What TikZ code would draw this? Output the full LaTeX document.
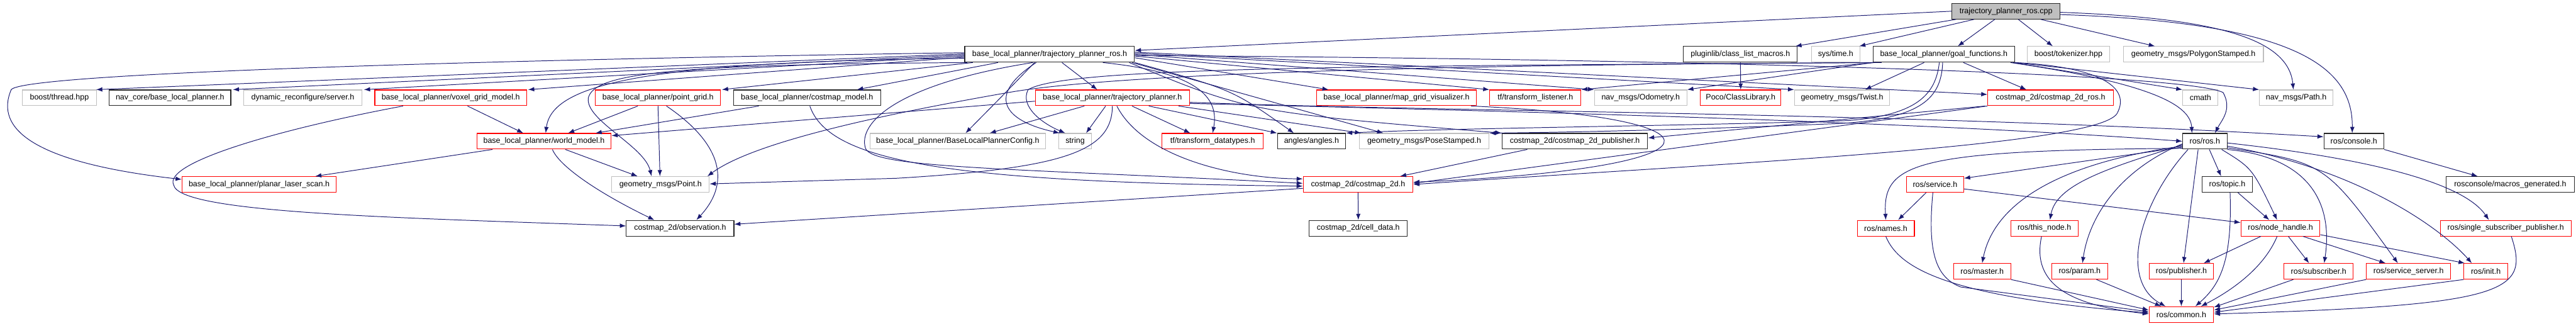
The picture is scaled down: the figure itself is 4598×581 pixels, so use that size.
\documentclass[tikz,border=0pt]{standalone}
\usepackage{fontspec}
\setmainfont{Liberation Sans}
\usetikzlibrary{arrows.meta}
\definecolor{edgeblue}{RGB}{25,25,112}
\definecolor{grey75}{RGB}{191,191,191}
\tikzset{
  box/.style={rectangle, draw, line width=1.2pt, fill=white, minimum height=28pt, inner sep=0pt, font=\fontsize{14}{16}\selectfont},
  hfile/.style={box, draw=black!85},
  extfile/.style={box, draw=grey75},
  trunc/.style={box, draw=red},
  rootfile/.style={box, draw=black!85, fill=grey75},
  dep/.style={draw=edgeblue, line width=1.1pt, -{Latex[length=11pt,width=8pt]}}
}
\begin{document}
\begin{tikzpicture}[x=1pt, y=-1pt]
  \useasboundingbox (0,0) rectangle (4598,581);
  \node[rootfile, minimum width=193pt] (cpp) at (3580.5,20) {trajectory\_planner\_ros.cpp};
  \node[hfile, minimum width=303pt] (tprh) at (1873.5,97) {base\_local\_planner/trajectory\_planner\_ros.h};
  \node[hfile, minimum width=203pt] (clm) at (3106.5,97) {pluginlib/class\_list\_macros.h};
  \node[extfile, minimum width=87pt] (systime) at (3276.5,97) {sys/time.h};
  \node[hfile, minimum width=253pt] (goalfn) at (3469.5,97) {base\_local\_planner/goal\_functions.h};
  \node[extfile, minimum width=148pt] (tokenizer) at (3692,97) {boost/tokenizer.hpp};
  \node[extfile, minimum width=250pt] (polygon) at (3915,97) {geometry\_msgs/PolygonStamped.h};
  \node[extfile, minimum width=132pt] (bthread) at (106,174.5) {boost/thread.hpp};
  \node[hfile, minimum width=217pt] (navcore) at (303.5,174.5) {nav\_core/base\_local\_planner.h};
  \node[extfile, minimum width=211pt] (dynrec) at (540.5,174.5) {dynamic\_reconfigure/server.h};
  \node[trunc, minimum width=271pt] (voxel) at (804.5,174.5) {base\_local\_planner/voxel\_grid\_model.h};
  \node[trunc, minimum width=223pt] (pgrid) at (1174.5,174.5) {base\_local\_planner/point\_grid.h};
  \node[hfile, minimum width=263pt] (cmodel) at (1440.5,174.5) {base\_local\_planner/costmap\_model.h};
  \node[trunc, minimum width=275pt] (tplanner) at (1985.5,174.5) {base\_local\_planner/trajectory\_planner.h};
  \node[trunc, minimum width=285pt] (mgvis) at (2492.5,174.5) {base\_local\_planner/map\_grid\_visualizer.h};
  \node[trunc, minimum width=163pt] (tflisten) at (2740.5,174.5) {tf/transform\_listener.h};
  \node[extfile, minimum width=165pt] (odom) at (2928.5,174.5) {nav\_msgs/Odometry.h};
  \node[trunc, minimum width=144pt] (poco) at (3107,174.5) {Poco/ClassLibrary.h};
  \node[extfile, minimum width=170pt] (twist) at (3288,174.5) {geometry\_msgs/Twist.h};
  \node[trunc, minimum width=224pt] (cmros) at (3660,174.5) {costmap\_2d/costmap\_2d\_ros.h};
  \node[extfile, minimum width=63pt] (cmath) at (3927.5,174.5) {cmath};
  \node[extfile, minimum width=131pt] (navpath) at (4098.5,174.5) {nav\_msgs/Path.h};
  \node[trunc, minimum width=240pt] (wmodel) at (971,252) {base\_local\_planner/world\_model.h};
  \node[extfile, minimum width=313pt] (blpconfig) at (1709.5,252) {base\_local\_planner/BaseLocalPlannerConfig.h};
  \node[extfile, minimum width=58pt] (stringh) at (1919,252) {string};
  \node[trunc, minimum width=181pt] (tfdata) at (2164.5,252) {tf/transform\_datatypes.h};
  \node[hfile, minimum width=122pt] (angles) at (2341,252) {angles/angles.h};
  \node[extfile, minimum width=232pt] (pose) at (2542,252) {geometry\_msgs/PoseStamped.h};
  \node[hfile, minimum width=260pt] (cmpub) at (2811,252) {costmap\_2d/costmap\_2d\_publisher.h};
  \node[hfile, minimum width=79pt] (rosh) at (3935.5,252) {ros/ros.h};
  \node[hfile, minimum width=107pt] (console) at (4201.5,252) {ros/console.h};
  \node[trunc, minimum width=275pt] (planar) at (462.5,329) {base\_local\_planner/planar\_laser\_scan.h};
  \node[extfile, minimum width=174pt] (gpoint) at (1179,329) {geometry\_msgs/Point.h};
  \node[trunc, minimum width=196pt] (cmtwod) at (2424,329) {costmap\_2d/costmap\_2d.h};
  \node[trunc, minimum width=102pt] (service) at (3454,329) {ros/service.h};
  \node[hfile, minimum width=89pt] (topic) at (3975.5,329) {ros/topic.h};
  \node[hfile, minimum width=229pt] (macros) at (4480.5,329) {rosconsole/macros\_generated.h};
  \node[hfile, minimum width=192pt] (obs) at (1214,407) {costmap\_2d/observation.h};
  \node[hfile, minimum width=175pt] (celldata) at (2424.5,407) {costmap\_2d/cell\_data.h};
  \node[trunc, minimum width=102pt] (names) at (3366,407) {ros/names.h};
  \node[trunc, minimum width=120pt] (thisnode) at (3649,407) {ros/this\_node.h};
  \node[trunc, minimum width=141pt] (nhandle) at (4070.5,407) {ros/node\_handle.h};
  \node[trunc, minimum width=233pt] (ssp) at (4472.5,407) {ros/single\_subscriber\_publisher.h};
  \node[trunc, minimum width=102pt] (master) at (3538,484) {ros/master.h};
  \node[trunc, minimum width=100pt] (param) at (3712,484) {ros/param.h};
  \node[trunc, minimum width=115pt] (publisher) at (3893.5,484) {ros/publisher.h};
  \node[trunc, minimum width=123pt] (subscriber) at (4138.5,484) {ros/subscriber.h};
  \node[trunc, minimum width=150pt] (sserver) at (4299,484) {ros/service\_server.h};
  \node[trunc, minimum width=78pt] (rosinit) at (4437,484) {ros/init.h};
  \node[trunc, minimum width=115pt] (common) at (3893.5,561) {ros/common.h};

  \draw[dep] (cpp.west) -- ([yshift=7pt]tprh.east);
  \draw[dep] ([xshift=8pt]cpp.south west) -- ([xshift=-4pt]clm.north east);
  \draw[dep] ([xshift=40pt]cpp.south west) -- ([xshift=-2pt]systime.north east);
  \draw[dep] ([xshift=-20pt]cpp.south) -- ([xshift=25pt]goalfn.north);
  \draw[dep] ([xshift=22pt]cpp.south) -- ([xshift=-28pt]tokenizer.north);
  \draw[dep] ([xshift=-35pt]cpp.south east) -- ([xshift=57pt]polygon.north west);
  \draw[dep] ([yshift=-2pt]cpp.east) .. controls (3960,32) and (4085,70) .. ([xshift=-5pt]navpath.north);
  \draw[dep] ([yshift=-6pt]cpp.east) .. controls (4100,40) and (4200,120) .. ([xshift=-3pt]console.north);

  \draw[dep] ([yshift=3pt]tprh.west) .. controls (900,106) and (40,130) .. (20,160) .. controls (-10,230) and (60,290) .. ([yshift=9pt]planar.west);
  \draw[dep] ([yshift=1pt]tprh.west) -- ([xshift=-1pt]bthread.north east);
  \draw[dep] ([yshift=-1pt]tprh.west) -- ([xshift=3pt]navcore.north east);
  \draw[dep] ([yshift=-3pt]tprh.west) -- ([xshift=3pt]dynrec.north east);
  \draw[dep] ([yshift=-5pt]tprh.west) -- ([xshift=2pt]voxel.north east);
  \draw[dep] ([yshift=-7pt]tprh.west) .. controls (1150,110) and (985,150) .. ([xshift=3pt]wmodel.north);
  \draw[dep] ([xshift=15pt]tprh.south west) -- ([xshift=2pt]pgrid.north east);
  \draw[dep] ([xshift=60pt]tprh.south west) -- ([xshift=89pt]cmodel.north);
  \draw[dep] ([xshift=5pt]tprh.south west) .. controls (1200,115) and (1060,130) .. (1050,175) .. controls (1045,215) and (1150,260) .. ([xshift=-16pt]gpoint.north);
  \draw[dep] ([xshift=22pt]tprh.south) -- ([xshift=-27pt]tplanner.north);
  \draw[dep] ([xshift=-27pt]tprh.south) .. controls (1800,160) .. ([xshift=14pt]blpconfig.north);
  \draw[dep] ([xshift=-24pt]tprh.south) .. controls (1760,170) and (1790,215) .. ([xshift=2pt]stringh.north west);
  \draw[dep] ([xshift=95pt]tprh.south) .. controls (2150,130) and (2175,180) .. (tfdata.north);
  \draw[dep] (tprh.south east) .. controls (2200,160) .. ([xshift=30pt]angles.north west);
  \draw[dep] ([xshift=-5pt]tprh.south east) -- ([xshift=-73pt]pose.north);
  \draw[dep] ([xshift=-10pt]tprh.south east) .. controls (2230,200) .. (cmpub.north west);
  \draw[dep] ([yshift=-6pt]tprh.east) -- ([xshift=22pt]mgvis.north west);
  \draw[dep] ([yshift=-3pt]tprh.east) -- (tflisten.north west);
  \draw[dep] (tprh.east) -- (odom.north west);
  \draw[dep] ([yshift=2pt]tprh.east) -- (twist.north west);
  \draw[dep] ([yshift=4pt]tprh.east) -- ([yshift=6pt]cmros.west);
  \draw[dep] ([xshift=-30pt]tprh.south) .. controls (1600,150) and (1530,220) .. (1545,265) .. controls (1560,300) and (1800,300) .. ([yshift=2pt]cmtwod.west);
  \draw[dep] ([yshift=-2pt]tprh.east) .. controls (3000,105) and (3900,130) .. (3968,165) .. controls (3985,195) and (3965,215) .. ([xshift=18pt]rosh.north);

  \draw[dep] ([yshift=-6pt]tplanner.west) -- ([yshift=10pt]wmodel.east);
  \draw[dep] ([xshift=-50pt]tplanner.south) -- ([xshift=57pt]blpconfig.north);
  \draw[dep] ([xshift=-12pt]tplanner.south) -- ([xshift=-10pt]stringh.north east);
  \draw[dep] ([xshift=35pt]tplanner.south) -- ([xshift=-40pt]tfdata.north);
  \draw[dep] ([xshift=65pt]tplanner.south) -- (angles.north west);
  \draw[dep] ([xshift=-20pt]tplanner.south east) -- ([xshift=4pt]pose.north west);
  \draw[dep] (tplanner.south) .. controls (1985,270) and (1900,300) .. (1600,318) -- ([yshift=1pt]gpoint.east);
  \draw[dep] ([xshift=8pt]tplanner.south) .. controls (2040,280) and (2200,318) .. ([yshift=10pt]cmtwod.west);
  \draw[dep] ([yshift=-10pt]tplanner.east) .. controls (2600,196) and (3400,215) .. (rosh.west);
  \draw[dep] ([yshift=-8pt]tplanner.east) .. controls (2600,200) and (3400,200) .. ([yshift=8pt]console.west);

  \draw[dep] ([xshift=-35pt]goalfn.south) -- ([xshift=41pt]twist.north);
  \draw[dep] ([xshift=35pt]goalfn.south) -- ([xshift=-43pt]cmros.north);
  \draw[dep] (goalfn.south west) -- (odom.north east);
  \draw[dep] ([xshift=4pt]goalfn.south west) -- (tflisten.north east);
  \draw[dep] ([xshift=8pt]goalfn.south west) .. controls (2400,118) and (1900,120) .. (1835,160) .. controls (1820,190) and (1860,220) .. ([xshift=12pt]stringh.north west);
  \draw[dep] ([xshift=16pt]goalfn.south west) .. controls (2600,115) and (2000,130) .. (1800,165) .. controls (1600,200) and (1350,250) .. ([xshift=-4pt]gpoint.north east);
  \draw[dep] ([xshift=-8pt]goalfn.south) .. controls (3455,170) and (3420,205) .. (3300,215) .. controls (3000,225) and (2600,228) .. (angles.north east);
  \draw[dep] ([xshift=-2pt]goalfn.south) .. controls (3465,175) and (3430,210) .. (3290,220) .. controls (3000,232) and (2800,236) .. (pose.north east);
  \draw[dep] (goalfn.south east) .. controls (3760,120) and (3800,160) .. (3780,200) .. controls (3760,260) and (3100,290) .. (cmtwod.east);
  \draw[dep] ([xshift=-8pt]goalfn.south east) .. controls (3850,150) and (3910,190) .. ([xshift=-23pt]rosh.north);
  \draw[dep] ([xshift=-4pt]goalfn.south east) -- (cmath.north west);
  \draw[dep] (goalfn.south east) -- (navpath.north west);

  \draw[dep] ([xshift=-4pt]cmros.south west) -- ([yshift=6pt]cmpub.east);
  \draw[dep] (cmros.south west) -- ([yshift=2pt]cmtwod.east);
  \draw[dep] (clm.south) -- (poco.north);

  \draw[dep] ([xshift=30pt]voxel.south) -- ([xshift=-37pt]wmodel.north);
  \draw[dep] ([xshift=-85pt]voxel.south) .. controls (500,230) and (290,290) .. (310,330) .. controls (320,380) and (700,388) .. ([yshift=4pt]obs.west);
  \draw[dep] ([xshift=-36pt]pgrid.south) -- ([xshift=43pt]wmodel.north);
  \draw[dep] (pgrid.south) -- ([xshift=-1pt]gpoint.north);
  \draw[dep] ([xshift=15pt]pgrid.south) .. controls (1280,250) and (1310,320) .. ([xshift=29pt]obs.north);
  \draw[dep] ([xshift=-86pt]cmodel.south) -- ([xshift=92pt]wmodel.north);
  \draw[dep] ([xshift=5pt]cmodel.south) .. controls (1480,290) and (1700,325) .. ([yshift=-3pt]cmtwod.west);
  \draw[dep] ([xshift=-92pt]wmodel.south) -- ([xshift=-38pt]planar.north east);
  \draw[dep] ([xshift=38pt]wmodel.south) -- ([xshift=-41pt]gpoint.north);
  \draw[dep] ([xshift=15pt]wmodel.south) .. controls (1000,300) and (1080,350) .. ([xshift=-46pt]obs.north);

  \draw[dep] ([xshift=-85pt]cmpub.south) -- ([xshift=75pt]cmtwod.north);
  \draw[dep] ([xshift=-10pt]mgvis.south east) .. controls (3100,210) and (3100,300) .. ([yshift=4pt]cmtwod.east);
  \draw[dep] (cmtwod.south) -- (celldata.north);
  \draw[dep] ([yshift=-7pt]cmtwod.west) -- ([yshift=7pt]obs.east);
  \draw[dep] (console.south east) -- ([xshift=-58pt]macros.north);

  \draw[dep] ([yshift=2pt]rosh.south west) .. controls (3420,268) and (3360,290) .. (names.north);
  \draw[dep] ([yshift=4pt]rosh.south west) -- ([yshift=11pt]service.east);
  \draw[dep] ([yshift=6pt]rosh.south west) .. controls (3680,290) and (3560,360) .. (master.north);
  \draw[dep] ([yshift=8pt]rosh.south west) .. controls (3760,300) and (3670,330) .. ([xshift=10pt]thisnode.north);
  \draw[dep] ([yshift=10pt]rosh.south west) .. controls (3790,300) and (3730,380) .. ([xshift=5pt]param.north);
  \draw[dep] ([xshift=-12pt]rosh.south) -- ([xshift=4pt]publisher.north);
  \draw[dep] ([xshift=-30pt]rosh.south) .. controls (3820,360) and (3780,500) .. ([xshift=-28pt]common.north);
  \draw[dep] ([xshift=8pt]rosh.south) -- ([xshift=-11pt]topic.north);
  \draw[dep] ([xshift=30pt]rosh.south) .. controls (4020,300) .. ([xshift=-6pt]nhandle.north);
  \draw[dep] (rosh.south east) .. controls (4120,280) and (4165,360) .. ([xshift=10pt]subscriber.north);
  \draw[dep] ([yshift=3pt]rosh.south east) .. controls (4150,290) .. ([xshift=-19pt]sserver.north);
  \draw[dep] ([yshift=6pt]rosh.south east) .. controls (4200,300) and (4350,400) .. ([xshift=-25pt]rosinit.north);
  \draw[dep] ([yshift=-3pt]rosh.east) .. controls (4250,285) and (4400,330) .. ([xshift=-30pt]ssp.north);

  \draw[dep] ([xshift=19pt]topic.south) -- ([xshift=-20pt]nhandle.north);
  \draw[dep] ([xshift=5pt]topic.south) .. controls (3985,470) and (3960,510) .. ([xshift=25pt]common.north);
  \draw[dep] ([xshift=-16pt]service.south) -- ([xshift=22pt]names.north);
  \draw[dep] ([xshift=-4pt]service.south) .. controls (3440,450) and (3455,495) .. (3500,512) -- ([yshift=5pt]common.west);
  \draw[dep] ([yshift=-8pt]service.east) -- ([yshift=10pt]nhandle.west);
  \draw[dep] (names.south) .. controls (3390,480) and (3480,530) .. ([yshift=3pt]common.west);
  \draw[dep] (master.south east) -- ([yshift=8pt]common.west);
  \draw[dep] ([xshift=-5pt]thisnode.south) .. controls (3625,510) and (3700,545) .. ([yshift=1pt]common.west);
  \draw[dep] ([xshift=30pt]param.south) -- ([xshift=-36pt]common.north);
  \draw[dep] ([xshift=-35pt]nhandle.south) -- ([xshift=40pt]publisher.north);
  \draw[dep] ([xshift=-6pt]nhandle.south) .. controls (4040,480) and (3980,520) .. ([xshift=35pt]common.north);
  \draw[dep] ([xshift=14pt]nhandle.south) -- ([xshift=-17pt]subscriber.north);
  \draw[dep] ([xshift=40pt]nhandle.south) -- ([xshift=-41pt]sserver.north);
  \draw[dep] ([yshift=3pt]nhandle.south east) -- ([xshift=2pt]rosinit.north west);
  \draw[dep] (publisher.south) -- (common.north);
  \draw[dep] ([xshift=-45pt]subscriber.south) -- ([yshift=13pt]common.east);
  \draw[dep] (sserver.south west) -- ([yshift=8pt]common.east);
  \draw[dep] (rosinit.south west) -- ([yshift=4pt]common.east);
  \draw[dep] ([xshift=10pt]ssp.south) .. controls (4515,520) and (4480,545) .. ([yshift=1pt]common.east);
\end{tikzpicture}
\end{document}
